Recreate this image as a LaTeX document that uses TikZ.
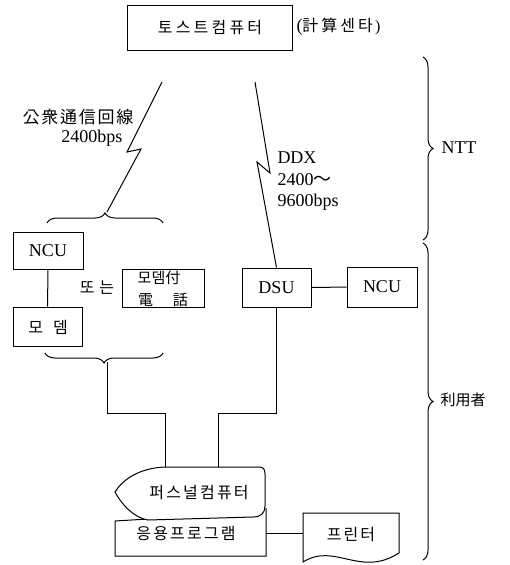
\documentclass[tikz,border=0pt]{standalone}
\usepackage{fontspec}
\setmainfont{Liberation Serif}
\newfontfamily\kr{Noto Sans CJK KR}
\usetikzlibrary{decorations.pathreplacing}
\newcommand\kk[1][2.2pt]{\kern#1}
\begin{document}
\begin{tikzpicture}[x=1pt,y=-1pt,line width=1pt,
  box/.style={draw,inner sep=0pt,font=\fontsize{18}{20}\selectfont},
  lab/.style={inner sep=0pt,font=\fontsize{18}{20}\selectfont},
  krlab/.style={inner sep=0pt,font=\kr\fontsize{16}{18}\selectfont},
  brc/.style={decorate,decoration={brace,amplitude=10pt}}]
\useasboundingbox (0,0) rectangle (509,565);
% boxes
\node[box,minimum width=165pt,minimum height=45pt] (host) at (210,27.5)
  {\kr\fontsize{16}{18}\selectfont 토\kk[3.2pt]스\kk[3.2pt]트\kk[3.2pt]컴\kk[3.2pt]퓨\kk[3.2pt]터};
\node[lab,anchor=west] (center) at (296,27) {(\kr\fontsize{16}{18}\selectfont 計\kk[3pt]算\kk[3pt]센\kk[3pt]타\kk\normalfont)};
\node[box,minimum width=70pt,minimum height=37pt] (ncu1) at (48,250.5) {NCU};
\node[box,minimum width=69pt,minimum height=39pt] (modem) at (47.5,326.5) {};
\node[krlab] at (48,327) {모\kk[10pt]뎀};
\node[box,minimum width=82pt,minimum height=38pt] (mphone) at (163,288) {};
\node[krlab,font=\kr\fontsize{15}{17}\selectfont] at (159,278) {모뎀付};
\node[krlab,font=\kr\fontsize{15}{17}\selectfont] at (163,300) {電\kk[20pt]話};
\node[krlab] (or) at (97,288) {또\kk[5pt]는};
\node[box,minimum width=69pt,minimum height=39pt] (dsu) at (276.5,287.5) {DSU};
\node[box,minimum width=70pt,minimum height=40pt] (ncu2) at (382,287) {NCU};
\draw (ncu1) -- (modem);
\draw (dsu) -- (ncu2);
% lightning lines
\coordinate (l1a) at (162,82);
\coordinate (l1b) at (127,152);
\coordinate (l1c) at (141,149);
\coordinate (l1d) at (107,212);
\draw (l1a) -- (l1b) -- (l1c) -- (l1d);
\coordinate (l2a) at (255,82);
\coordinate (l2b) at (270,173);
\coordinate (l2c) at (257,162);
\draw (l2a) -- (l2b) -- (l2c) -- (dsu.north);
% labels of lines
\node[krlab,anchor=east,font=\kr\fontsize{17}{19}\selectfont] (pub) at (134,117) {公\kk[1.8pt]衆\kk[1.8pt]通\kk[1.8pt]信\kk[1.8pt]回\kk[1.8pt]線};
\node[lab,anchor=east] (pubr) at (123,138) {2400bps};
\node[lab,anchor=west] (ddx) at (277,158) {DDX};
\node[lab,anchor=west] (ddx2) at (277,180) {2400{\kr ～}};
\node[lab,anchor=west] (ddx3) at (277,202) {9600bps};
% left braces
\draw[brc] (47,223) -- (163,223);
\draw[brc] (163,353) -- (45,353);
% connections down to the personal computer
\coordinate (bt) at (107,362);
\coordinate (j1) at (165,413);
\coordinate (p1) at (165,467);
\coordinate (j2) at (218,413);
\coordinate (p2) at (218,467);
\draw (bt) |- (j1) -- (p1);
\draw (dsu.south) |- (j2) -- (p2);
% application box
\draw (148,519) -- (115,521) -- (115,556) -- (266,556) -- (266,508);
\node[krlab] (app) at (186,534) {응\kk 용\kk 프\kk 로\kk 그\kk 램};
% personal computer (display shape)
\draw[fill=white] (165,467) -- (259,467) .. controls (263,467) and (265,469) .. (265,474)
  -- (265,506) .. controls (265,513) and (261,517) .. (253,517) -- (148,520)
  .. controls (132,517) and (121,503) .. (115,492)
  .. controls (123,479) and (140,468) .. (165,467) -- cycle;
\node[krlab] (pc) at (199,493) {퍼\kk 스\kk 널\kk 컴\kk 퓨\kk 터};
% printer
\draw (303,513) -- (399,513) -- (399,553) .. controls (360,578) and (335,542) .. (303,562) -- cycle;
\node[krlab] (prn) at (351,535) {프\kk[2pt]린\kk[2pt]터};
\draw (266,533) -- (303,533);
% right braces
\draw[brc] (423,57) -- (423,240);
\draw[brc] (423,243) -- (423,560);
\node[lab,anchor=west] (ntt) at (441,148) {NTT};
\node[krlab,anchor=west,font=\kr\fontsize{15}{17}\selectfont] (user) at (440,400) {利用者};
\end{tikzpicture}
\end{document}
